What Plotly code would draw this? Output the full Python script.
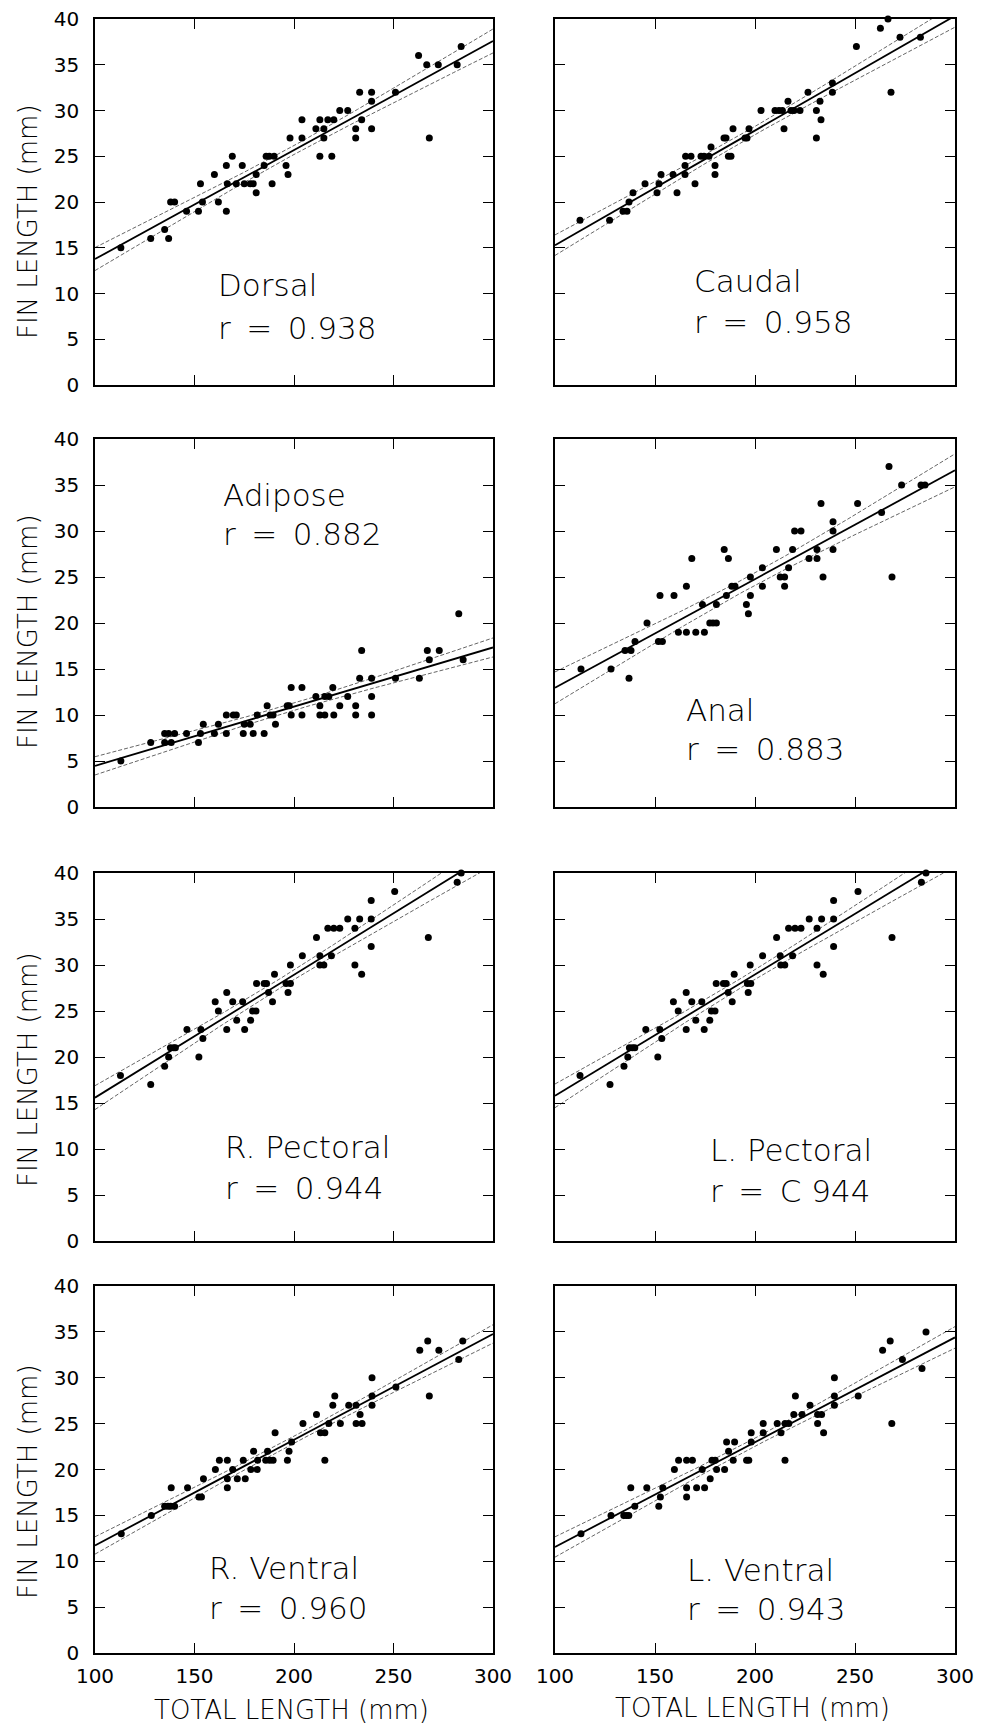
import numpy as np
import plotly.graph_objects as go

# ---------------- data ----------------
fin_names = ["Dorsal", "Caudal", "Adipose", "Anal",
             "R. Pectoral", "L. Pectoral", "R. Ventral", "L. Ventral"]
r_labels = ["r\u2002=\u20020.938", "r\u2002=\u20020.958", "r\u2002=\u20020.882", "r\u2002=\u20020.883",
            "r\u2002=\u20020.944", "r\u2002=\u2002C 944", "r\u2002=\u20020.960", "r\u2002=\u20020.943"]

dorsal_tl = [113,128,135,137,138,140,146,152,153,154,160,162,166,166,166.5,169,171,174,175,178,
             179.5,181,181,185,186,187.6,189,190,196,197,198,204,204,211,213,213,215,215,217,219,
             220,223,227,231,231,233,234,239,239,239,251,262.6,266.7,268,272.5,282,284]
dorsal_fl = [15,16,17,16,20,20,19,19,22,20,23,20,19,24,22,25,22,24,22,22,
             22,23,21,24,25,25,22,25,24,23,27,29,27,28,29,25,28,27,29,25,
             29,30,30,28,27,32,29,32,31,28,32,36,35,27,35,35,37]

caudal_tl = [112.5,127.3,134,136,137,139,145,151,152,153,159,161,165,165,165.3,168,170,173,174.5,177,
             178,180,180,184.5,185.5,186.7,188,189,195,196,197,203,210,212,213.7,214.5,216.5,218,219.5,222.5,
             226.5,230.7,230.7,232.5,233,238.7,238.7,250.7,262.7,266.5,268,272.5,282.7]
caudal_fl = [18,18,19,19,20,21,22,21,22,23,23,21,24,23,25,25,22,25,25,25,
             26,24,23,27,27,25,25,28,27,27,28,30,30,30,30,28,31,30,30,30,
             32,30,27,31,29,33,32,37,39,40,32,38,38]

adipose_tl = [113,128,135,135,137,138.3,140,146,152,153,154.4,160,162,166,166,169.5,171,174.5,175,178,
              179.5,181.5,185,186.5,188,189.5,190.7,196.6,197.6,198.6,198.6,204,204,211,213,213,215.5,215.5,217.5,219.5,
              220,223,227,231,231,233,234,239,239,239,251,263,267,268,273,282.8,285]
adipose_fl = [5,7,7,8,8,7,8,8,7,8,9,8,9,8,10,10,10,8,9,9,
              8,10,8,11,10,10,9,11,11,13,10,13,10,12,11,10,10,12,12,13,
              10,11,12,11,10,14,17,14,12,10,14,14,17,16,17,21,16]

anal_tl = [113,128,135,137,138,140,146,151.7,152.5,153.7,159.5,161.7,165.7,165.7,168.4,170.4,173.7,174.7,177.4,179,
           180.7,180.7,184.6,185.7,186.7,188.4,190,195.7,196.7,197.7,197.7,203.7,203.7,210.7,212.6,214.8,214.8,216.8,218.8,219.8,
           223,227,231,231,233,234,239,239,239,251.3,263.3,267,268.5,273.3,283,285]
anal_fl = [15,15,17,14,17,18,20,18,23,18,23,19,24,19,27,19,22,19,20,20,
           20,22,28,23,27,24,24,22,21,25,23,26,24,28,25,25,24,26,28,30,
           30,27,28,27,33,25,31,30,28,33,32,37,25,35,35,35]

rpect_tl = [112.8,128,135,137,137.9,139.5,140.4,146.2,152.2,153.2,154.2,160.4,162,166.2,166.2,169.2,171.2,174.2,175.2,178.2,
            179.2,180.9,181.2,185,186.2,187.2,189.2,190.2,196,197,198.2,198.2,204.2,211.3,213,213,215,217,218.8,220,
            223,227,230.6,230.6,233,234,238.8,238.8,238.8,250.6,267.5,282,284]
rpect_fl = [18,17,19,20,21,21,21,23,20,23,22,26,25,27,23,26,24,26,23,24,
            25,25,28,28,28,27,26,29,28,27,28,30,31,33,31,30,30,34,31,34,
            34,35,34,30,35,29,37,35,32,38,33,39,40]

lpect_tl = [112.5,127.5,134.5,136.4,137.2,138.7,139.9,145.4,151.4,152.4,153.4,159.2,161.6,165.6,165.6,168.4,170.4,173.4,174.6,177.4,
            178.2,180,180.6,184.2,185.6,186.6,188.6,189.6,196.2,196.6,197.9,197.6,203.8,210.8,212.6,212.9,214.9,216.8,218.8,220,
            223,227.1,231,231,233.3,234.1,239.3,239.3,239.3,251.5,268.5,283.2,285.5]
lpect_fl = [18,17,19,20,21,21,21,23,20,23,22,26,25,27,23,26,24,26,23,24,
            25,25,28,28,28,27,26,29,28,27,28,30,31,33,31,30,30,34,31,34,
            34,35,34,30,35,29,37,35,32,38,33,39,40]

rvent_tl = [113.2,128.3,135,136.7,138,138.3,140,146.5,152.2,153.5,154.5,160.5,162.5,166.5,166.5,166.5,169.2,171.5,174.5,175.5,
            178.3,179.7,181.5,181.7,185.8,186.7,187.8,189.5,190.5,196.7,197.5,198.8,204.5,211.3,213.3,215.5,215.5,217.5,219.5,220.5,
            223.3,227.5,231.2,231.2,233.2,234.2,239.2,239.2,239.2,251.2,263.2,267.2,268,272.8,282.8,284.8]
rvent_fl = [13,15,16,16,16,18,16,18,17,17,19,20,21,21,19,18,20,19,21,19,
            20,22,20,21,21,22,21,21,24,21,22,23,25,26,24,24,21,25,27,28,
            25,27,27,25,26,25,30,28,27,29,33,34,28,33,32,34]

lvent_tl = [113,128,134.4,135.7,136.9,137.9,139.9,145.9,151.9,152.7,153.9,159.7,161.8,165.8,165.8,165.8,168.7,170.8,173.6,174.8,
            177.6,178.5,180.1,180.8,184.8,185.8,186.8,189.1,189.8,195.8,196.9,198.1,198.1,204.1,204.1,211.1,213,215,215,216.9,
            219.4,220.2,223.5,227.5,231.3,231.3,233.3,234.3,239.7,239.7,239.7,251.6,263.8,267.6,268.4,273.7,283.5,285.5]
lvent_fl = [13,15,15,15,15,18,16,18,16,17,18,20,21,21,18,17,21,18,20,18,
            19,21,21,20,20,23,22,21,23,21,21,24,23,25,24,25,24,25,21,25,
            26,28,26,27,26,25,26,24,30,28,27,28,33,34,25,32,31,35]

panels_tl = [dorsal_tl, caudal_tl, adipose_tl, anal_tl, rpect_tl, lpect_tl, rvent_tl, lvent_tl]
panels_fl = [dorsal_fl, caudal_fl, adipose_fl, anal_fl, rpect_fl, lpect_fl, rvent_fl, lvent_fl]

x_ticks = [100, 150, 200, 250, 300]
y_ticks = [0, 5, 10, 15, 20, 25, 30, 35, 40]

# ---------------- layout geometry (pixels of the 981x1726 page) ----------------
W, H = 981, 1726
col_px = [(95, 493), (555, 955)]
row_px = [(19, 385), (439, 807), (873, 1241), (1286, 1653)]
label_px = [(216, 285, 328), (692, 281, 322), (221, 495, 534), (684, 710, 749),
            (223, 1147, 1188), (708, 1150, 1191), (207, 1568, 1608), (685, 1570, 1609)]
ytitle_px = [(28, 222), (28, 632), (28, 1070), (28, 1482)]
xtitle_px = [(291, 1710), (752, 1708)]

FONT = "DejaVu Sans"
fig = go.Figure()

for i in range(8):
    r, c = divmod(i, 2)
    xa = "x" if i == 0 else f"x{i+1}"
    ya = "y" if i == 0 else f"y{i+1}"
    tl = np.array(panels_tl[i], float)
    fl = np.array(panels_fl[i], float)
    # least-squares fit and 95% confidence band of the mean
    n = len(tl)
    b, a = np.polyfit(tl, fl, 1)
    res = fl - (a + b * tl)
    s = np.sqrt(np.sum(res ** 2) / (n - 2))
    xm = tl.mean()
    sxx = np.sum((tl - xm) ** 2)
    xs = np.linspace(100, 300, 101)
    yfit = a + b * xs
    hw = 2.0 * s * np.sqrt(1.0 / n + (xs - xm) ** 2 / sxx)
    for yy in (yfit + hw, yfit - hw):
        fig.add_trace(go.Scatter(x=xs, y=yy, mode="lines", xaxis=xa, yaxis=ya,
                                 line=dict(color="#666666", width=1, dash="4px,2px"),
                                 showlegend=False, hoverinfo="skip"))
    fig.add_trace(go.Scatter(x=xs, y=yfit, mode="lines", xaxis=xa, yaxis=ya,
                             line=dict(color="black", width=1.8),
                             showlegend=False, hoverinfo="skip"))
    fig.add_trace(go.Scatter(x=tl, y=fl, mode="markers", xaxis=xa, yaxis=ya,
                             marker=dict(color="black", size=7, line=dict(width=0)),
                             cliponaxis=False, showlegend=False))

    x0, x1 = col_px[c]
    t0, t1 = row_px[r]
    common = dict(showline=True, linecolor="black", linewidth=1.5, mirror="ticks",
                  ticks="inside", ticklen=10, tickwidth=1.2, tickcolor="black",
                  showgrid=False, zeroline=False, automargin=False,
                  tickfont=dict(family=FONT, size=20, color="black"))
    fig.layout[("xaxis" if i == 0 else f"xaxis{i+1}")] = dict(
        common, domain=[x0 / W, x1 / W], range=[100, 300], tickvals=x_ticks,
        showticklabels=(r == 3), anchor=ya, ticklabelstandoff=4)
    fig.layout[("yaxis" if i == 0 else f"yaxis{i+1}")] = dict(
        common, domain=[1 - t1 / H, 1 - t0 / H], range=[0, 40], tickvals=y_ticks,
        showticklabels=(c == 0), anchor=xa, ticklabelstandoff=10)

    lx, ly1, ly2 = label_px[i]
    for txt, ly in ((fin_names[i], ly1), (r_labels[i], ly2)):
        fig.add_annotation(x=lx / W, y=1 - ly / H, xref="paper", yref="paper",
                           text=txt, showarrow=False, xanchor="left", yanchor="middle",
                           font=dict(family=FONT, size=31, color="black", weight=300))

for (px, py) in ytitle_px:
    fig.add_annotation(x=px / W, y=1 - py / H, xref="paper", yref="paper",
                       text="FIN LENGTH (mm)", textangle=-90, showarrow=False,
                       xanchor="center", yanchor="middle",
                       font=dict(family=FONT, size=26, color="black", weight=300))
for (px, py) in xtitle_px:
    fig.add_annotation(x=px / W, y=1 - py / H, xref="paper", yref="paper",
                       text="TOTAL LENGTH (mm)", showarrow=False,
                       xanchor="center", yanchor="middle",
                       font=dict(family=FONT, size=26, color="black", weight=300))

fig.update_layout(template="none", width=W, height=H,
                  margin=dict(l=0, r=0, t=0, b=0, autoexpand=False),
                  paper_bgcolor="white", plot_bgcolor="white")
fig.write_html("out.html", config={"displayModeBar": False},
               post_script="document.body.style.margin='0';document.body.style.overflow='hidden';")
